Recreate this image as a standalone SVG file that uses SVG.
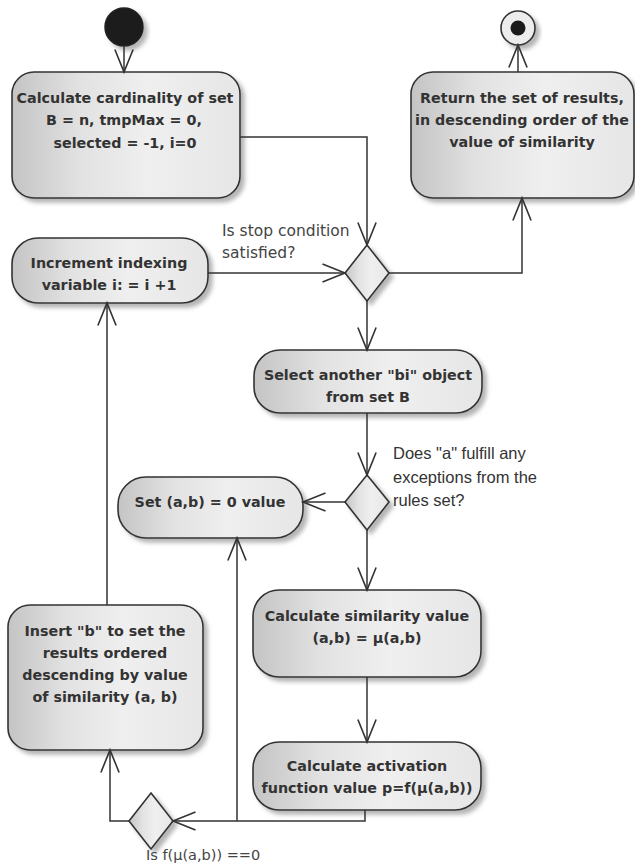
<svg xmlns="http://www.w3.org/2000/svg" width="635" height="865" viewBox="0 0 635 865">
<style>
.node{fill:url(#g);stroke:#333;stroke-width:1.6;filter:url(#sh)}
.t{font-family:"DejaVu Sans",sans-serif;font-weight:bold;font-size:14.3px;fill:#333;text-anchor:middle}
.lbl{font-family:"DejaVu Sans",sans-serif;font-size:15.5px;fill:#444}
.lbl3{font-family:"DejaVu Sans",sans-serif;font-size:14.5px;fill:#444}
.lbl2{font-family:"Liberation Sans",sans-serif;font-size:16.5px;fill:#333}
.c{fill:none;stroke:#333;stroke-width:1.5;marker-end:url(#a)}
</style>
<defs>
<linearGradient id="g" x1="0" y1="0" x2="1" y2="0">
<stop offset="0" stop-color="#c4c4c4"/>
<stop offset="0.3" stop-color="#e2e2e2"/>
<stop offset="0.6" stop-color="#efefef"/>
<stop offset="1" stop-color="#e6e6e6"/>
</linearGradient>
<filter id="sh" x="-20%" y="-20%" width="140%" height="140%">
<feDropShadow dx="4" dy="4" stdDeviation="2" flood-color="#777" flood-opacity="0.55"/>
</filter>
<marker id="a" markerUnits="userSpaceOnUse" markerWidth="30" markerHeight="30" viewBox="-24 -12 28 24" refX="0" refY="0" orient="auto">
<path d="M-21,-8.5 L0,0 L-21,8.5" fill="none" stroke="#333" stroke-width="1.5"/>
</marker>
</defs>

<g id="start"><circle cx="124" cy="27" r="19" fill="#1b1b1b" stroke="#222" stroke-width="1.5" filter="url(#sh)"/></g>

<g id="end">
<circle cx="518" cy="28" r="17" fill="#ececec" stroke="#333" stroke-width="1.6" filter="url(#sh)"/>
<circle cx="518" cy="28" r="7.5" fill="#1b1b1b"/>
</g>

<g id="n1">
<rect class="node" x="12" y="72" width="228" height="126" rx="22"/>
<text class="t" x="125" y="103">Calculate cardinality of set</text>
<text class="t" x="124" y="125">B = n, tmpMax = 0,</text>
<text class="t" x="125" y="148">selected = -1, i=0</text>
</g>

<g id="n2">
<rect class="node" x="411" y="72" width="223" height="126" rx="22"/>
<text class="t" x="522" y="103">Return the set of results,</text>
<text class="t" x="522" y="125">in descending order of the</text>
<text class="t" x="522" y="147">value of similarity</text>
</g>

<g id="inc">
<rect class="node" x="12" y="238" width="196" height="65" rx="26"/>
<text class="t" x="109" y="268">Increment indexing</text>
<text class="t" x="109" y="290">variable i: = i +1</text>
</g>

<g id="d1"><path class="node" d="M367,245 L389,273 L367,301 L345,273 Z"/></g>

<g id="sel">
<rect class="node" x="254" y="350" width="228" height="63" rx="26"/>
<text class="t" x="368" y="380">Select another "bi" object</text>
<text class="t" x="368" y="402">from set B</text>
</g>

<g id="d2"><path class="node" d="M367,475 L389,502 L367,530 L345,502 Z"/></g>

<g id="set">
<rect class="node" x="118" y="477" width="185" height="61" rx="28"/>
<text class="t" x="210" y="507">Set (a,b) = 0 value</text>
</g>

<g id="sim">
<rect class="node" x="253" y="590" width="228" height="87" rx="26"/>
<text class="t" x="367" y="621">Calculate similarity value</text>
<text class="t" x="367" y="643">(a,b) = μ(a,b)</text>
</g>

<g id="act">
<rect class="node" x="253" y="742" width="228" height="68" rx="26"/>
<text class="t" x="367" y="771">Calculate activation</text>
<text class="t" x="367" y="793">function value p=f(μ(a,b))</text>
</g>

<g id="ins">
<rect class="node" x="8" y="605" width="195" height="145" rx="22"/>
<text class="t" x="105" y="636">Insert "b" to set the</text>
<text class="t" x="105" y="658">results ordered</text>
<text class="t" x="105" y="680">descending by value</text>
<text class="t" x="105" y="702">of similarity (a, b)</text>
</g>

<g id="d3"><path class="node" d="M151,793 L173,821 L151,849 L129,821 Z"/></g>

<g id="connectors">
<path class="c" d="M124,46 L124,72"/>
<path class="c" d="M240,137 L367,137 L367,245"/>
<path class="c" d="M208,273 L345,273"/>
<path class="c" d="M389,273 L522,273 L522,198"/>
<path class="c" d="M518,72 L518,45"/>
<path class="c" d="M367,301 L367,350"/>
<path class="c" d="M367,413 L367,475"/>
<path class="c" d="M345,502 L303,502"/>
<path class="c" d="M367,530 L367,590"/>
<path class="c" d="M367,677 L367,742"/>
<path class="c" d="M365,810 L365,821 L173,821"/>
<path class="c" d="M237,821 L237,538"/>
<path class="c" d="M129,821 L110,821 L110,750"/>
<path class="c" d="M107,605 L107,303"/>
</g>

<g id="labels">
<text class="lbl" x="222" y="236">Is stop condition</text>
<text class="lbl" x="222" y="258">satisfied?</text>
<text class="lbl2" x="393" y="459">Does "a" fulfill any</text>
<text class="lbl2" x="393" y="483">exceptions from the</text>
<text class="lbl2" x="393" y="506">rules set?</text>
<text class="lbl3" x="146" y="860">Is f(μ(a,b)) ==0</text>
</g>
</svg>
